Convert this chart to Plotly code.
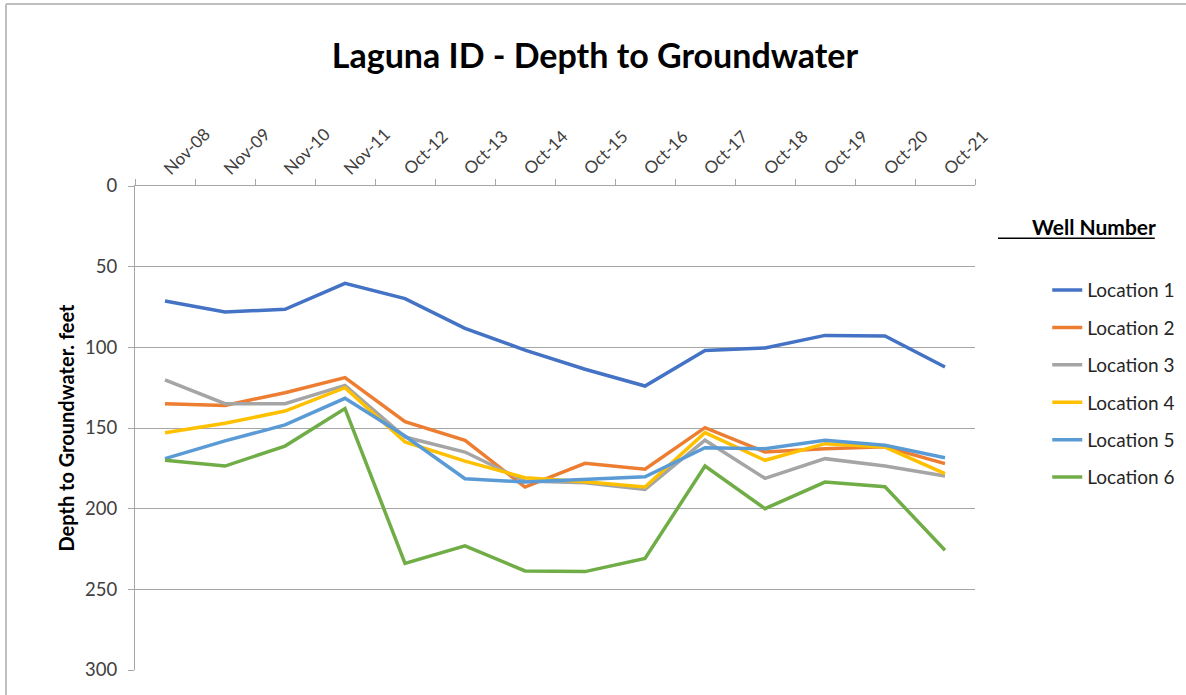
import plotly.graph_objects as go

dates = ["Nov-08", "Nov-09", "Nov-10", "Nov-11", "Oct-12", "Oct-13", "Oct-14",
         "Oct-15", "Oct-16", "Oct-17", "Oct-18", "Oct-19", "Oct-20", "Oct-21"]

loc1 = [71.3, 78.1, 76.4, 60.3, 69.8, 88.2, 101.7, 113.6, 124.0, 101.9, 100.4, 92.6, 93.0, 112.2]
loc2 = [134.9, 136.0, 128.1, 118.8, 146.1, 157.6, 186.6, 171.9, 175.6, 149.8, 164.9, 162.8, 161.6, 172.1]
loc3 = [120.2, 134.9, 134.9, 123.6, 155.6, 164.9, 182.9, 183.9, 188.0, 157.6, 181.2, 169.0, 173.6, 179.8]
loc4 = [152.9, 147.1, 139.5, 125.0, 158.7, 170.5, 180.8, 183.3, 186.6, 152.9, 170.0, 159.7, 161.8, 178.3]
loc5 = [169.0, 158.0, 148.1, 131.6, 155.0, 181.4, 183.5, 181.8, 180.2, 162.2, 162.8, 157.6, 160.7, 168.4]
loc6 = [170.0, 173.6, 161.2, 138.0, 233.9, 223.1, 238.6, 239.0, 230.8, 173.6, 200.0, 183.5, 186.4, 225.8]

series = [
    ("Location 1", loc1, "#4472C4"),
    ("Location 2", loc2, "#ED7D31"),
    ("Location 3", loc3, "#A5A5A5"),
    ("Location 4", loc4, "#FFC000"),
    ("Location 5", loc5, "#5B9BD5"),
    ("Location 6", loc6, "#70AD47"),
]

FONT = "Lato"
GRID = "#A6A6A6"

fig = go.Figure()
for name, vals, color in series:
    fig.add_trace(go.Scatter(x=dates, y=vals, name=name, mode="lines",
                             line=dict(color=color, width=3.5),
                             legendgroup=name))

fig.update_layout(
    width=1186, height=695,
    margin=dict(l=135, r=211, t=186, b=25, autoexpand=False),
    paper_bgcolor="white", plot_bgcolor="white",
    font=dict(family=FONT, color="#262626"),
    title=dict(text="<b>Laguna ID - Depth to Groundwater</b>",
               x=0.5017, xanchor="center", y=0.920, yanchor="middle",
               font=dict(size=34, color="black")),
    legend=dict(x=1.086, xanchor="left", y=0.824, yanchor="top",
                font=dict(size=19, color="#262626"),
                tracegroupgap=9.7, bgcolor="rgba(0,0,0,0)"),
    shapes=[
        # outer chart frame (left and top edges)
        dict(type="line", xref="paper", yref="paper",
             x0=-0.1536, x1=1.3, y0=1.376, y1=1.376,
             line=dict(color="#BFBFBF", width=2)),
        dict(type="line", xref="paper", yref="paper",
             x0=-0.1536, x1=-0.1536, y0=-0.2, y1=1.376,
             line=dict(color="#BFBFBF", width=2)),
        # underline of the legend heading
        dict(type="line", xref="paper", yref="paper",
             x0=1.0274, x1=1.214, y0=0.892, y1=0.892,
             line=dict(color="black", width=1.5)),
    ],
    annotations=[
        dict(text="<b>Well Number</b>", xref="paper", yref="paper",
             x=1.218, xanchor="right", y=0.916, yanchor="middle",
             showarrow=False, font=dict(size=21, color="black")),
    ],
)

fig.update_xaxes(
    type="category", side="top", tickangle=-45,
    tickfont=dict(size=17, color="#404040"),
    ticks="outside", tickson="boundaries", ticklen=6, tickcolor=GRID,
    showline=True, linecolor=GRID, linewidth=1,
    showgrid=False, range=[-0.5, 13.5],
)
fig.update_yaxes(
    range=[300, 0], tickvals=[0, 50, 100, 150, 200, 250, 300],
    tickfont=dict(size=18.5, color="#404040"),
    ticks="outside", ticklen=6, tickcolor=GRID, ticklabelstandoff=7,
    showline=True, linecolor=GRID, linewidth=1,
    showgrid=True, gridcolor=GRID, gridwidth=1, zeroline=False,
    title=dict(text="<b>Depth to Groundwater. feet</b>",
               font=dict(size=20, color="black"), standoff=5),
)

# drop the page's default body margin so the figure sits at the window corner
fig.write_html("out.html", config={"displayModeBar": False},
               post_script="document.body.style.margin='0';")
